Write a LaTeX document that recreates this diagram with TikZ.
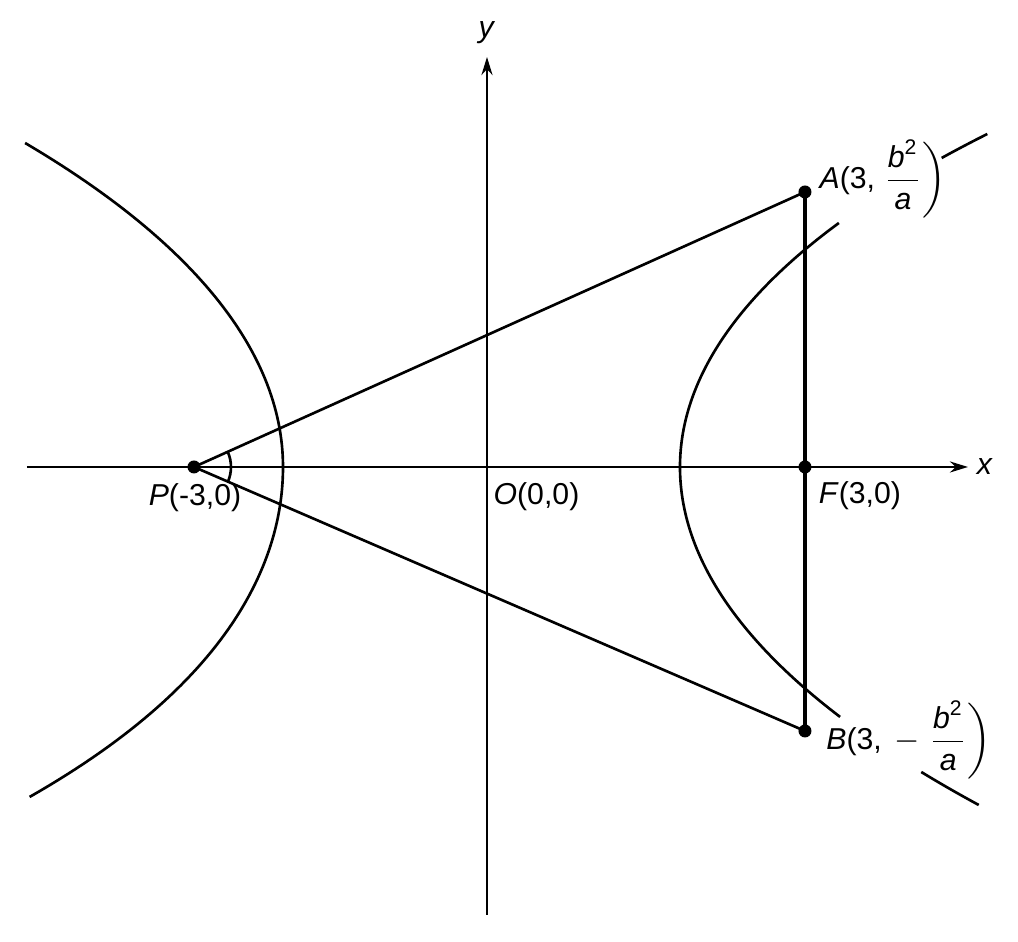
\documentclass[tikz,border=0pt]{standalone}
\usepackage{amsmath}
\usepackage{fontspec}
\setmainfont{Liberation Sans}
\usetikzlibrary{arrows.meta}
\begin{document}
\begin{tikzpicture}
        [every node/.style={font=\fontsize{8.6}{10}\selectfont},
        axis/.style={line width=0.75pt, -{Stealth[length=1.8mm,width=1.1mm]}},
        curve/.style={line width=0.75pt},
        dot/.style={circle, fill=black, inner sep=0pt, minimum size=1.3mm},
        ]
        \useasboundingbox (-4.87,-4.75) rectangle (5.31,4.67);
        % axes
        \coordinate (O) at (0,0);
        \coordinate (xl) at (-4.60,0);
        \coordinate (xr) at (4.81,0);
        \coordinate (yb) at (0,-4.48);
        \coordinate (yt) at (0,4.10);
        \draw[axis] (xl) -- (xr);
        \draw[axis] (yb) -- (yt);
        \node (xlab) at (4.98,0) {\textit{x}};
        \node (ylab) at (0,4.34) {\textit{y}};
        % left branch
        \draw[curve] plot[domain=3.24:0, samples=60, variable=\t]
          ({-2.04-0.23*\t*\t-0.0015*\t*\t*\t*\t}, {\t})
          -- plot[domain=0:-3.30, samples=60, variable=\t]
          ({-2.04-0.2*\t*\t-0.003*\t*\t*\t*\t}, {\t});
        % right branch, broken where the labels stand
        \draw[curve] plot[domain=2.44:0, samples=60, variable=\t]
          ({1.93+0.255*\t*\t+0.002*\t*\t*\t*\t}, {\t})
          -- plot[domain=0:-2.50, samples=60, variable=\t]
          ({1.93+0.25*\t*\t+0.001*\t*\t*\t*\t}, {\t});
        \draw[curve] plot[domain=3.09:3.33, samples=10, variable=\t]
          ({1.93+0.255*\t*\t+0.002*\t*\t*\t*\t}, {\t});
        \draw[curve] plot[domain=-3.05:-3.38, samples=10, variable=\t]
          ({1.93+0.25*\t*\t+0.001*\t*\t*\t*\t}, {\t});
        % points
        \node[dot] (P) at (-2.93,0) {};
        \node[dot] (F) at (3.18,0) {};
        \node[dot] (A) at (3.18,2.75) {};
        \node[dot] (B) at (3.18,-2.64) {};
        \draw[curve] (P.center) -- (A.center);
        \draw[curve] (P.center) -- (B.center);
        \draw[line width=1.1pt] (A.center) -- (B.center);
        \draw[curve] ([shift={(24:0.37)}]P.center) arc[start angle=24, end angle=-24, radius=0.37];
        % labels
        \node (Plab) at (-2.92,-0.31) {\textit{P}(-3,0)};
        \node (Olab) at (0.495,-0.30) {\textit{O}(0,0)};
        \node (Flab) at (3.73,-0.29) {\textit{F}(3,0)};
        \node (Alab) at (3.96,2.88) {\textit{A}(3,\hspace{-0.04cm} $\left.\dfrac{\mbox{\textit{b}\textsuperscript{2}}}{\mbox{\textit{a}}}\right)$};
        \node (Blab) at (4.22,-2.73) {\textit{B}(3, $\left.-\;\dfrac{\mbox{\textit{b}\textsuperscript{2}}}{\mbox{\textit{a}}}\right)$};
        \end{tikzpicture}
\end{document}
